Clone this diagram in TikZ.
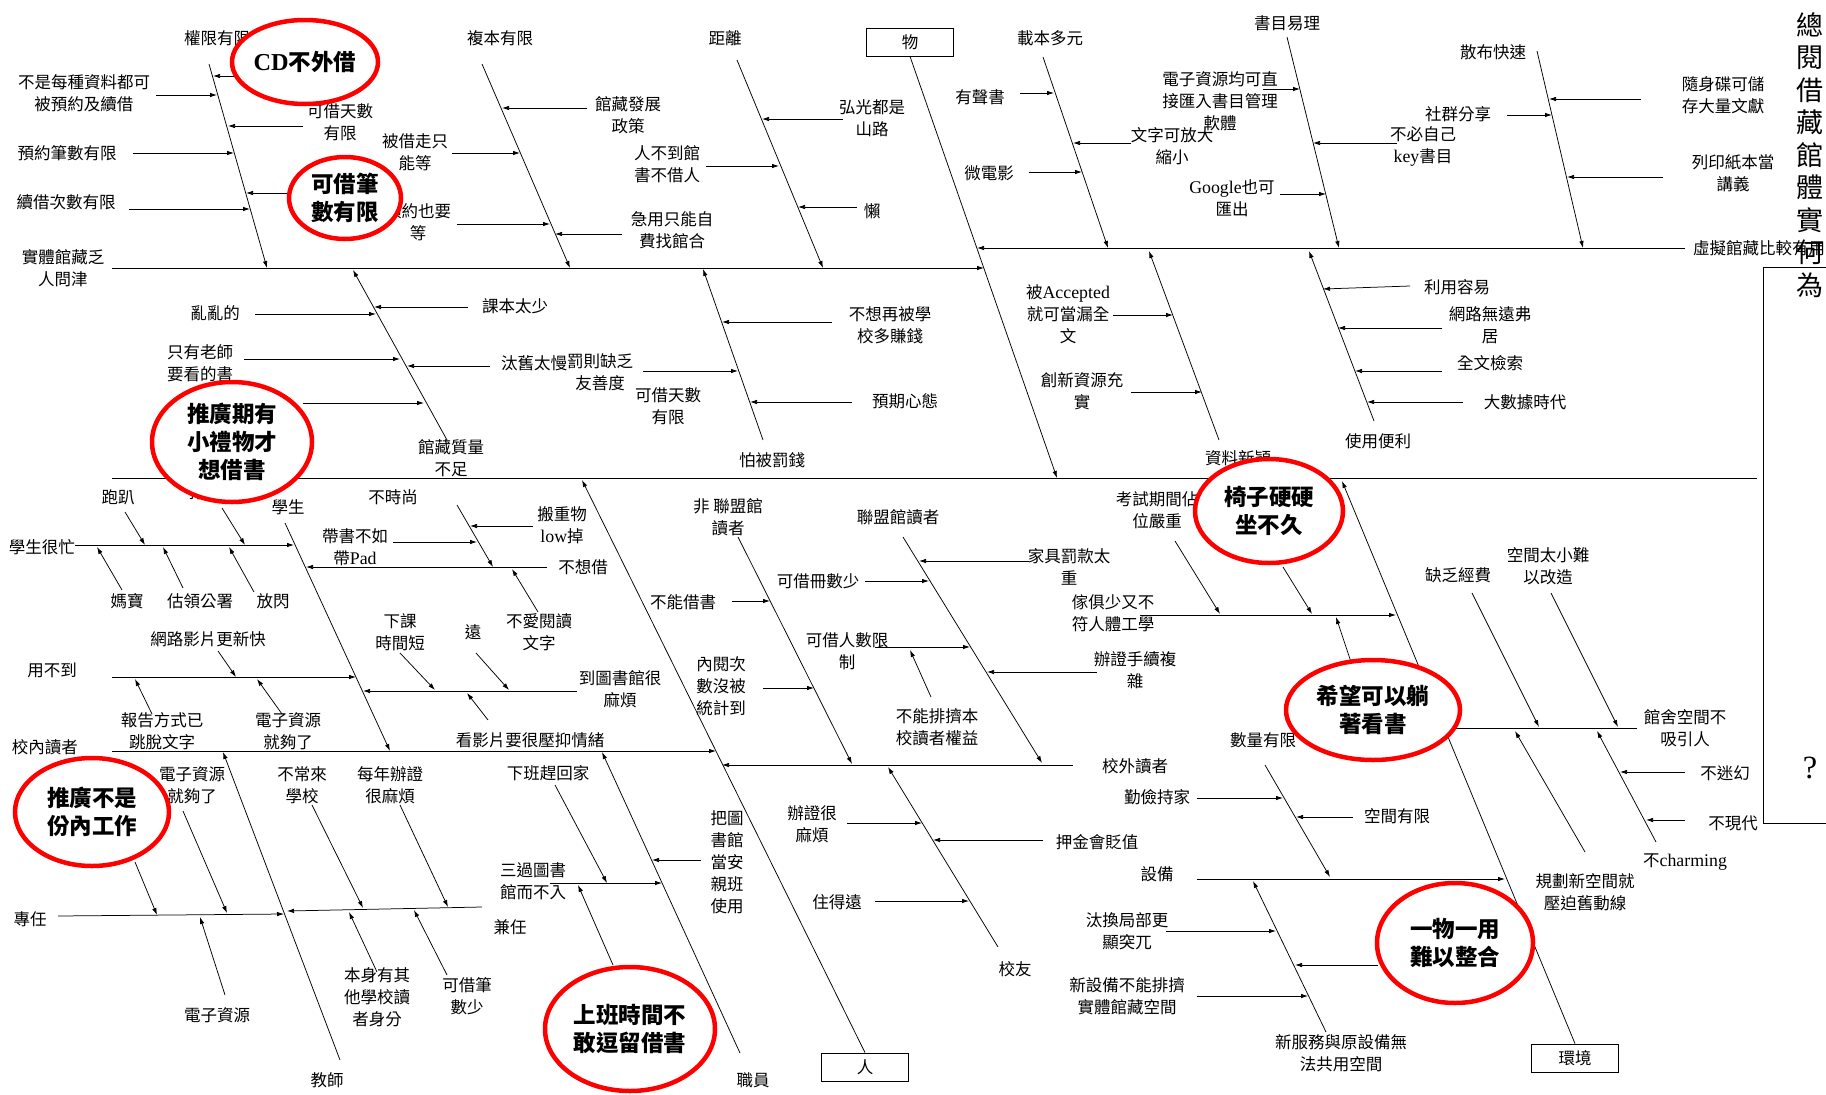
\documentclass[tikz,border=0pt]{standalone}
\usepackage{fontspec}
\setmainfont{Liberation Serif}
\newfontfamily\cjk{Noto Sans CJK TC}
\newfontfamily\latf{Liberation Serif}[Scale=1.08]
\newcommand{\lat}[1]{{\latf #1}}
\usetikzlibrary{arrows.meta,shapes.geometric}
\begin{document}
\begin{tikzpicture}[x=1pt,y=-1pt,
  lbl/.style={font=\cjk\fontsize{16.5}{22}\selectfont, align=center, inner sep=0pt},
  arr/.style={line width=0.75pt, -{Latex[length=7pt,width=4.5pt]}},
  bone/.style={line width=0.8pt},
  oval/.style={ellipse, draw=red, line width=4.5pt, fill=white, inner sep=0pt,
     font=\cjk\bfseries\fontsize{22.5}{28}\selectfont, align=center},
  catbox/.style={draw, line width=0.8pt, minimum width=87pt, minimum height=28pt, inner sep=0pt,
     font=\cjk\fontsize{16.5}{22}\selectfont}
]
\useasboundingbox (0,0) rectangle (1826,1095);
\fill[white] (0,0) rectangle (1826,1095);

% ---------- spines ----------
\draw[arr] (112,268) -- (984,268);
\draw[arr] (1685,248) -- (977,248);
\draw[bone] (112,478) -- (1757,478);
\node[catbox] (wu) at (910,42) {物};
\node[catbox] (ren) at (865,1067) {人};
\node[catbox] (env) at (1575,1058) {環境};
\draw[arr] (wu.south) -- (1057,478);
\draw[arr] (ren.north) -- (582,480);
\draw[arr] (env.north) -- (1342,481);
\draw[arr] (112,751) -- (716,751);
\draw[arr] (1073,765) -- (722,765);
\draw[bone] (1826,267) -- (1763,267) -- (1763,823) -- (1826,823);

% ---------- top-left ----------
\node[lbl] (a1) at (217,38) {權限有限};
\node[lbl] (a2) at (84,93) {不是每種資料都可\\被預約及續借};
\node[lbl] (a3) at (340,122) {可借天數\\有限};
\node[lbl] (a4) at (67,153) {預約筆數有限};
\node[lbl] (a5) at (66,202) {續借次數有限};
\node[lbl] (a6) at (63,268) {實體館藏乏\\人問津};
\draw[arr] (209,64) -- (267,268);
\draw[arr] (235,76) -- (213,76);
\draw[arr] (156,95) -- (217,95);
\draw[arr] (303,126) -- (228,126);
\draw[arr] (133,153) -- (234,153);
\draw[arr] (287,193) -- (246,193);
\draw[arr] (129,209) -- (250,209);

\node[lbl] (b1) at (500,38) {複本有限};
\node[lbl] (b2) at (415,152) {被借走只\\能等};
\node[lbl] (b3) at (418,222) {預約也要\\等};
\node[lbl] (b4) at (628,115) {館藏發展\\政策};
\node[lbl] (b5) at (672,230) {急用只能自\\費找館合};
\draw[arr] (482,64) -- (570,268);
\draw[arr] (452,153) -- (520,153);
\draw[arr] (587,108) -- (502,108);
\draw[arr] (457,224) -- (550,224);
\draw[arr] (622,234) -- (555,234);

\node[lbl] (c1) at (725,38) {距離};
\node[lbl] (c2) at (872,118) {弘光都是\\山路};
\node[lbl] (c3) at (667,164) {人不到館\\書不借人};
\node[lbl] (c4) at (872,211) {懶};
\draw[arr] (737,60) -- (823,268);
\draw[arr] (843,119) -- (762,119);
\draw[arr] (706,166) -- (779,166);
\draw[arr] (857,207) -- (798,207);

% ---------- below top-left spine ----------
\node[lbl] (d1) at (451,458) {館藏質量\\不足};
\node[lbl] (d2) at (515,306) {課本太少};
\node[lbl] (d3) at (215,313) {亂亂的};
\node[lbl] (d4) at (200,363) {只有老師\\要看的書};
\node[lbl] (d5) at (534,363) {汰舊太慢};
\draw[arr] (447,440) -- (353,270);
\draw[arr] (468,307) -- (374,307);
\draw[arr] (255,314) -- (376,314);
\draw[arr] (244,359) -- (400,359);
\draw[arr] (490,366) -- (407,366);
\draw[arr] (303,403) -- (424,403);

\node[lbl] (e1) at (772,460) {怕被罰錢};
\node[lbl] (e2) at (890,325) {不想再被學\\校多賺錢};
\node[lbl] (e3) at (600,372) {罰則缺乏\\友善度};
\node[lbl] (e4) at (668,406) {可借天數\\有限};
\node[lbl] (e5) at (905,401) {預期心態};
\draw[arr] (763,440) -- (703,269);
\draw[arr] (832,322) -- (722,322);
\draw[arr] (643,371) -- (738,371);
\draw[arr] (852,402) -- (750,402);

% ---------- top-right ----------
\node[lbl] (f1) at (1050,38) {載本多元};
\node[lbl] (f2) at (980,97) {有聲書};
\node[lbl] (f3) at (1172,146) {文字可放大\\縮小};
\node[lbl] (f4) at (989,173) {微電影};
\draw[arr] (1043,57) -- (1108,248);
\draw[arr] (1020,93) -- (1054,93);
\draw[arr] (1131,143) -- (1073,143);
\draw[arr] (1029,172) -- (1082,172);

\node[lbl] (g1) at (1287,23) {書目易理};
\node[lbl] (g2) at (1220,101) {電子資源均可直\\接匯入書目管理\\軟體};
\node[lbl] (g3) at (1423,146) {不必自己\\\lat{key}書目};
\node[lbl] (g4) at (1232,198) {\lat{Google}也可\\匯出};
\draw[arr] (1287,37) -- (1339,248);
\draw[arr] (1263,89) -- (1300,89);
\draw[arr] (1397,143) -- (1313,143);
\draw[arr] (1280,194) -- (1326,194);

\node[lbl] (h1) at (1493,52) {散布快速};
\node[lbl] (h2) at (1458,114) {社群分享};
\node[lbl] (h3) at (1723,95) {隨身碟可儲\\存大量文獻};
\node[lbl] (h4) at (1733,173) {列印紙本當\\講義};
\draw[arr] (1537,51) -- (1583,248);
\draw[arr] (1507,115) -- (1552,115);
\draw[arr] (1641,99) -- (1549,99);
\draw[arr] (1663,177) -- (1567,177);

\node[lbl, anchor=west] (h5) at (1693,248) {虛擬館藏比較有用};
\node[font=\cjk\fontsize{27}{32.5}\selectfont, align=center, inner sep=0pt] (title) at (1810,155)
  {總\\閱\\借\\藏\\館\\體\\實\\何\\為};
\node[font=\latf\fontsize{30}{30}\selectfont, inner sep=0pt] (qm) at (1810,768) {?};

% ---------- below top-right ----------
\node[lbl] (i1) at (1238,458) {資料新穎};
\node[lbl] (i2) at (1068,314) {被\lat{Accepted}\\就可當漏全\\文};
\node[lbl] (i3) at (1082,391) {創新資源充\\實};
\draw[arr] (1219,440) -- (1149,251);
\draw[arr] (1113,315) -- (1173,315);
\draw[arr] (1131,392) -- (1202,392);

\node[lbl] (j1) at (1378,441) {使用便利};
\node[lbl] (j2) at (1457,287) {利用容易};
\node[lbl] (j3) at (1490,325) {網路無遠弗\\居};
\node[lbl] (j4) at (1490,363) {全文檢索};
\node[lbl] (j5) at (1525,402) {大數據時代};
\draw[arr] (1374,421) -- (1309,251);
\draw[arr] (1410,286) -- (1323,289);
\draw[arr] (1442,328) -- (1338,328);
\draw[arr] (1442,371) -- (1355,371);
\draw[arr] (1463,402) -- (1367,402);

% ---------- 校內讀者 / 學生 ----------
\node[lbl] (k0) at (45,747) {校內讀者};
\node[lbl] (k1) at (288,507) {學生};
\draw[arr] (285,523) -- (390,751);
\node[lbl] (k2) at (42,547) {學生很忙};
\node[lbl] (k3) at (118,497) {跑趴};
\node[lbl] (k4) at (205,492) {打工};
\node[lbl] (k5) at (127,601) {媽寶};
\node[lbl] (k6) at (200,601) {估領公署};
\node[lbl] (k7) at (273,601) {放閃};
\draw[arr] (75,545) -- (294,545);
\draw[arr] (125,512) -- (145,545);
\draw[arr] (222,508) -- (245,545);
\draw[arr] (122,590) -- (97,547);
\draw[arr] (183,588) -- (163,547);
\draw[arr] (254,592) -- (229,547);

\node[lbl] (l1) at (583,567) {不想借};
\node[lbl] (l2) at (393,497) {不時尚};
\node[lbl] (l3) at (355,547) {帶書不如\\帶\lat{Pad}};
\node[lbl] (l4) at (562,525) {搬重物\\\lat{low}掉};
\node[lbl] (l5) at (539,632) {不愛閱讀\\文字};
\draw[arr] (547,567) -- (306,567);
\draw[arr] (457,505) -- (493,567);
\draw[arr] (533,526) -- (470,526);
\draw[arr] (393,542) -- (477,542);
\draw[arr] (538,612) -- (512,569);

\node[lbl] (m1) at (52,670) {用不到};
\node[lbl] (m2) at (208,639) {網路影片更新快};
\node[lbl] (m3) at (162,731) {報告方式已\\跳脫文字};
\node[lbl] (m4) at (288,731) {電子資源\\就夠了};
\draw[arr] (112,677) -- (356,677);
\draw[arr] (218,651) -- (236,677);
\draw[arr] (152,714) -- (135,679);
\draw[arr] (282,714) -- (257,679);

\node[lbl] (n1) at (620,689) {到圖書館很\\麻煩};
\node[lbl] (n2) at (400,632) {下課\\時間短};
\node[lbl] (n3) at (473,632) {遠};
\node[lbl] (n4) at (530,740) {看影片要很壓抑情緒};
\draw[arr] (577,691) -- (363,691);
\draw[arr] (400,653) -- (435,690);
\draw[arr] (476,653) -- (509,690);
\draw[arr] (488,720) -- (467,693);

% ---------- 教師 ----------
\node[lbl] (o0) at (327,1080) {教師};
\draw[arr] (340,1060) -- (223,752);
\node[lbl] (o1) at (30,919) {專任};
\node[lbl] (o2) at (192,785) {電子資源\\就夠了};
\node[lbl] (o3) at (217,1015) {電子資源};
\draw[arr] (58,916) -- (284,914);
\draw[arr] (135,862) -- (157,915);
\draw[arr] (183,811) -- (227,913);
\draw[arr] (225,995) -- (200,917);
\node[lbl] (o4) at (510,927) {兼任};
\node[lbl] (o5) at (302,785) {不常來\\學校};
\node[lbl] (o6) at (390,785) {每年辦證\\很麻煩};
\node[lbl] (o7) at (377,997) {本身有其\\他學校讀\\者身分};
\node[lbl] (o8) at (467,996) {可借筆\\數少};
\draw[arr] (482,907) -- (287,911);
\draw[arr] (312,805) -- (363,908);
\draw[arr] (400,805) -- (448,907);
\draw[arr] (377,972) -- (349,912);
\draw[arr] (447,975) -- (414,910);

% ---------- 職員 ----------
\node[lbl] (p0) at (753,1080) {職員};
\draw[arr] (740,1053) -- (602,752);
\node[lbl] (p1) at (533,881) {三過圖書\\館而不入};
\node[lbl] (p2) at (548,773) {下班趕回家};
\node[lbl] (p3) at (727,862) {把圖\\書館\\當安\\親班\\使用};
\draw[arr] (550,883) -- (662,883);
\draw[arr] (555,785) -- (607,883);
\draw[arr] (613,965) -- (578,885);
\draw[arr] (701,860) -- (652,860);

% ---------- 校外讀者 ----------
\node[lbl] (q0) at (1135,766) {校外讀者};
\node[lbl] (q1) at (728,517) {非 聯盟館\\讀者};
\node[lbl] (q2) at (683,602) {不能借書};
\node[lbl] (q3) at (721,686) {內閱次\\數沒被\\統計到};
\draw[arr] (738,537) -- (852,764);
\draw[arr] (732,601) -- (770,601);
\draw[arr] (763,688) -- (814,688);

\node[lbl] (r1) at (898,517) {聯盟館讀者};
\node[lbl] (r2) at (1069,567) {家具罰款太\\重};
\node[lbl] (r3) at (818,581) {可借冊數少};
\node[lbl] (r4) at (847,651) {可借人數限\\制};
\node[lbl] (r5) at (937,727) {不能排擠本\\校讀者權益};
\node[lbl] (r6) at (1135,670) {辦證手續複\\雜};
\draw[arr] (903,537) -- (1042,763);
\draw[arr] (1029,561) -- (919,561);
\draw[arr] (865,581) -- (929,581);
\draw[arr] (875,647) -- (970,647);
\draw[arr] (931,697) -- (910,650);
\draw[arr] (1097,672) -- (987,672);

\node[lbl] (s0) at (1015,969) {校友};
\node[lbl] (s1) at (812,824) {辦證很\\麻煩};
\node[lbl] (s2) at (1097,842) {押金會貶值};
\node[lbl] (s3) at (837,902) {住得遠};
\draw[arr] (998,947) -- (888,767);
\draw[arr] (847,823) -- (922,823);
\draw[arr] (1043,840) -- (933,840);
\draw[arr] (875,901) -- (969,901);

% ---------- 環境 ----------
\node[lbl] (t1) at (1113,613) {傢俱少又不\\符人體工學};
\node[lbl] (t2) at (1157,510) {考試期間佔\\位嚴重};
\draw[arr] (1140,615) -- (1396,615);
\draw[arr] (1175,541) -- (1220,614);
\draw[arr] (1283,567) -- (1312,614);
\draw[arr] (1352,665) -- (1336,617);

\node[lbl] (u1) at (1685,728) {館舍空間不\\吸引人};
\node[lbl] (u2) at (1458,575) {缺乏經費};
\node[lbl] (u3) at (1548,566) {空間太小難\\以改造};
\node[lbl] (u4) at (1585,892) {規劃新空間就\\壓迫舊動線};
\node[lbl] (u5) at (1685,862) {不\lat{charming}};
\node[lbl] (u6) at (1725,773) {不迷幻};
\node[lbl] (u7) at (1733,823) {不現代};
\draw[arr] (1637,728) -- (1444,728);
\draw[arr] (1472,593) -- (1539,727);
\draw[arr] (1551,593) -- (1618,727);
\draw[arr] (1585,852) -- (1515,731);
\draw[arr] (1656,842) -- (1597,731);
\draw[arr] (1685,772) -- (1620,772);
\draw[arr] (1685,820) -- (1646,820);

\node[lbl] (v0) at (1157,874) {設備};
\node[lbl] (v1) at (1263,740) {數量有限};
\node[lbl] (v2) at (1157,797) {勤儉持家};
\node[lbl] (v3) at (1397,816) {空間有限};
\draw[arr] (1197,879) -- (1505,879);
\draw[arr] (1265,765) -- (1330,877);
\draw[arr] (1197,798) -- (1283,798);
\draw[arr] (1353,817) -- (1296,817);

\node[lbl] (w1) at (1341,1053) {新服務與原設備無\\法共用空間};
\node[lbl] (w2) at (1127,931) {汰換局部更\\顯突兀};
\node[lbl] (w3) at (1127,996) {新設備不能排擠\\實體館藏空間};
\draw[arr] (1326,1032) -- (1253,881);
\draw[arr] (1166,931) -- (1276,931);
\draw[arr] (1378,965) -- (1295,965);
\draw[arr] (1197,996) -- (1308,996);

% ---------- red ovals ----------
\node[oval, minimum width=146pt, minimum height=84pt] (o_cd) at (305,62) {\lat{CD}不外借};
\node[oval, minimum width=112pt, minimum height=82pt] (o_num) at (345,198) {可借筆\\數有限};
\node[oval, minimum width=160pt, minimum height=120pt] (o_gift) at (232,442) {推廣期有\\小禮物才\\想借書};
\node[oval, minimum width=154pt, minimum height=108pt] (o_duty) at (92,812) {推廣不是\\份內工作};
\node[oval, minimum width=170pt, minimum height=124pt] (o_work) at (630,1029) {上班時間不\\敢逗留借書};
\node[oval, minimum width=148pt, minimum height=104pt] (o_chair) at (1269,511) {椅子硬硬\\坐不久};
\node[oval, minimum width=174pt, minimum height=100pt] (o_lie) at (1373,710) {希望可以躺\\著看書};
\node[oval, minimum width=156pt, minimum height=120pt] (o_one) at (1455,943) {一物一用\\難以整合};
\end{tikzpicture}
\end{document}
